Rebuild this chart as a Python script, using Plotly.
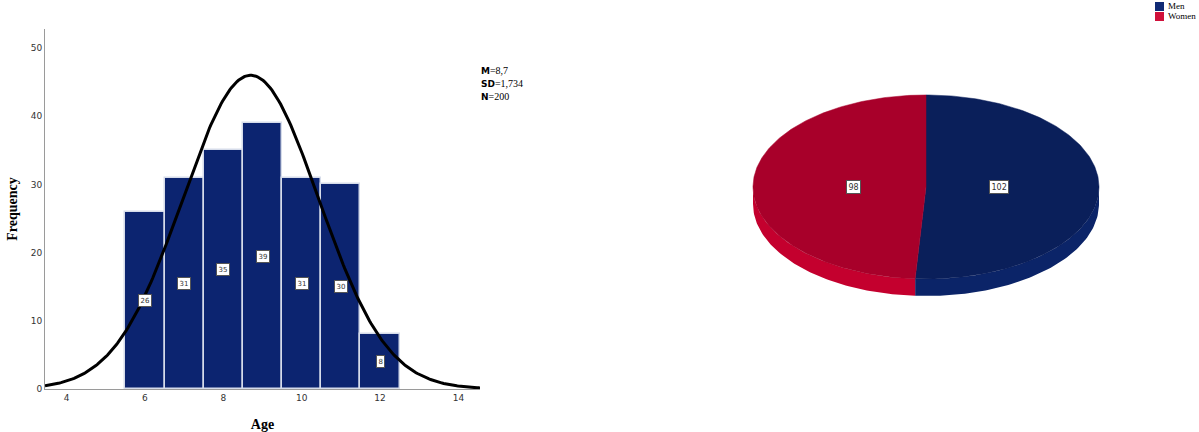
import numpy as np
import plotly.graph_objects as go

# ---------------- data ----------------
ages = [6, 7, 8, 9, 10, 11, 12]
freq = [26, 31, 35, 39, 31, 30, 8]
stat_mean = 8.7
stat_sd = 1.734
stat_n = 200
x_ticks = [4, 6, 8, 10, 12, 14]
y_ticks = [0, 10, 20, 30, 40, 50]

sex_labels = ["Men", "Women"]
sex_counts = [102, 98]

# ---------------- styles ----------------
W, H = 1199, 432
BAR_COL = "#0c2470"
TOP_COL = {"Men": "#0a1f5a", "Women": "#a8002a"}
SIDE_COL = {"Men": "#0b2468", "Women": "#c4002e"}
LEG_COL = {"Men": "#102a75", "Women": "#d0103a"}
SERIF = "Liberation Serif, Times New Roman, serif"
SANS = "DejaVu Sans, Arial, sans-serif"

fig = go.Figure()

# ---------------- histogram ----------------
fig.add_trace(go.Bar(
    x=ages, y=freq, width=1,
    marker=dict(color=BAR_COL, line=dict(color="#d6dcea", width=1.5)),
    showlegend=False, hoverinfo="x+y", xaxis="x", yaxis="y",
))

# fitted normal curve from M, SD, N
xc = np.linspace(3.45, 14.55, 300)
yc = stat_n * 1.0 * np.exp(-0.5 * ((xc - stat_mean) / stat_sd) ** 2) / (stat_sd * np.sqrt(2 * np.pi))
fig.add_trace(go.Scatter(
    x=xc, y=yc, mode="lines", line=dict(color="black", width=3),
    showlegend=False, hoverinfo="skip", xaxis="x", yaxis="y",
))

annotations = []
for a, f in zip(ages, freq):
    annotations.append(dict(
        x=a, y=f / 2, xref="x", yref="y", text=str(f), showarrow=False,
        font=dict(size=7, color="#333", family=SANS),
        bgcolor="white", bordercolor="#555", borderwidth=1, borderpad=1.5,
    ))

annotations.append(dict(
    x=479 / W, y=1 - 63 / H, xref="paper", yref="paper", xanchor="left", yanchor="top",
    align="left", showarrow=False,
    text=(f"<span style='font-family:{SANS};font-weight:bold;font-size:9px'>M</span>=8,7<br>"
          f"<span style='font-family:{SANS};font-weight:bold;font-size:9px'>SD</span>=1,734<br>"
          f"<span style='font-family:{SANS};font-weight:bold;font-size:9px'>N</span>=200"),
    font=dict(size=10, color="black", family=SERIF),
))

# ---------------- pseudo-3D pie ----------------
RX, RY, DEPTH = 1.0, 0.532, 0.098
total = sum(sex_counts)
start = 0.0
for lab, cnt in zip(sex_labels, sex_counts):
    end = start + cnt / total * 2 * np.pi
    # side (front half only: theta in [pi/2, 3pi/2])
    s0, s1 = max(start, np.pi / 2), min(end, 3 * np.pi / 2)
    if s1 > s0:
        th = np.linspace(s0, s1, 80)
        xs = RX * np.sin(th)
        ys = RY * np.cos(th)
        px = np.concatenate([xs, xs[::-1]])
        py = np.concatenate([ys, ys[::-1] - DEPTH])
        fig.add_trace(go.Scatter(
            x=px, y=py, fill="toself", mode="lines", line=dict(width=0, color=SIDE_COL[lab]),
            fillcolor=SIDE_COL[lab], showlegend=False, hoverinfo="skip", xaxis="x2", yaxis="y2",
        ))
    start = end

start = 0.0
for lab, cnt in zip(sex_labels, sex_counts):
    end = start + cnt / total * 2 * np.pi
    th = np.linspace(start, end, 200)
    px = np.concatenate([[0], RX * np.sin(th), [0]])
    py = np.concatenate([[0], RY * np.cos(th), [0]])
    fig.add_trace(go.Scatter(
        x=px, y=py, fill="toself", mode="lines", line=dict(width=0.5, color=TOP_COL[lab]),
        fillcolor=TOP_COL[lab], showlegend=False, hoverinfo="text", text=f"{lab}: {cnt}",
        xaxis="x2", yaxis="y2",
    ))
    mid = (start + end) / 2
    annotations.append(dict(
        x=0.42 * RX * np.sin(mid), y=0, xref="x2", yref="y2",
        text=str(cnt), showarrow=False, font=dict(size=8, color="#333", family=SANS),
        bgcolor="white", bordercolor="#555", borderwidth=1, borderpad=1.5,
    ))
    start = end

# manual legend (top right)
shapes = []
for i, lab in enumerate(sex_labels):
    top = 2 + i * 10
    shapes.append(dict(type="rect", xref="paper", yref="paper",
                       x0=1155 / W, x1=1164 / W, y0=1 - (top + 9) / H, y1=1 - top / H,
                       fillcolor=LEG_COL[lab], line=dict(width=0)))
    annotations.append(dict(x=1166 / W, y=1 - (top + 4.5) / H, xref="paper", yref="paper",
                            xanchor="left", yanchor="middle", showarrow=False, text=lab,
                            font=dict(size=9, family=SERIF, color="black")))

# pie axis mapping: 1 unit = 173 px, centre at (926, 187 from top)
U = 173.0
CX, CY = 926.0, H - 187.0
x2_dom = [(CX - 1.2 * U) / W, (CX + 1.2 * U) / W]
y2_range = [-CY / U, (H - CY) / U]

fig.update_layout(
    width=W, height=H, margin=dict(l=0, r=0, t=0, b=0, autoexpand=False),
    paper_bgcolor="white", plot_bgcolor="white",
    bargap=0, showlegend=False,
    xaxis=dict(domain=[45 / W, 480 / W], range=[3.45, 14.55], tickvals=x_ticks,
               showgrid=False, zeroline=False, showline=True, linecolor="#9a9a9a", linewidth=1,
               ticks="", tickfont=dict(size=9, color="#333", family=SANS), automargin=False,
               title=dict(text="<b>Age</b>", font=dict(size=14, family=SERIF, color="black"), standoff=20)),
    yaxis=dict(domain=[(H - 389) / H, (H - 29) / H], range=[0, 52.8], tickvals=y_ticks,
               showgrid=False, zeroline=False, showline=True, linecolor="#9a9a9a", linewidth=1,
               ticks="", tickfont=dict(size=9, color="#333", family=SANS), automargin=False,
               title=dict(text="<b>Frequency</b>", font=dict(size=14, family=SERIF, color="black"), standoff=9)),
    xaxis2=dict(domain=x2_dom, range=[-1.2, 1.2], visible=False, anchor="y2"),
    yaxis2=dict(domain=[0, 1], range=y2_range, visible=False, anchor="x2"),
    annotations=annotations,
    shapes=shapes,
)

fig.write_html("out.html")
